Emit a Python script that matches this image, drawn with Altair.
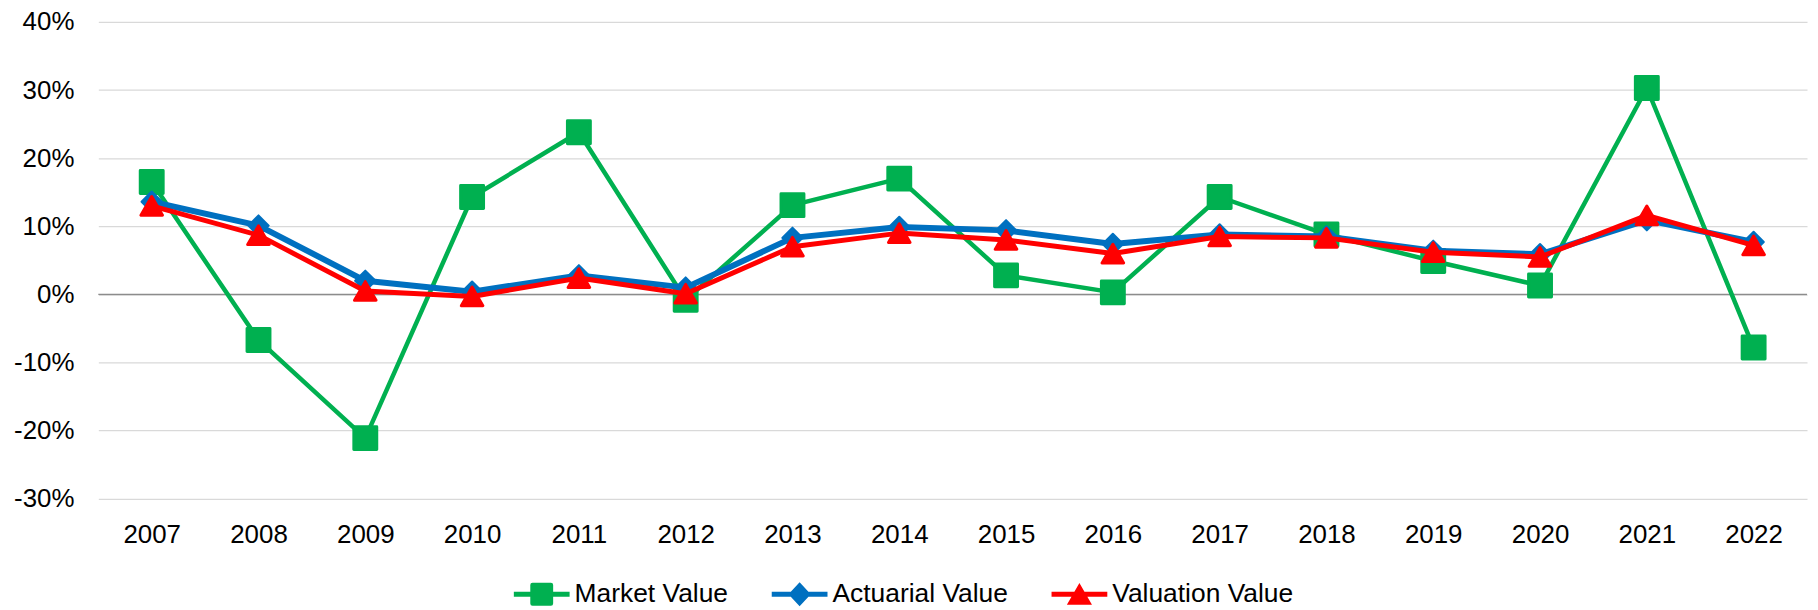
import altair as alt
import pandas as pd

# ---- data ----
years = [str(y) for y in range(2007, 2023)]
market = [16.5, -6.7, -21.1, 14.3, 23.8, -0.8, 13.1, 17.0, 2.8, 0.3, 14.3, 8.8, 4.9, 1.3, 30.3, -7.8]
actuarial = [13.6, 10.1, 2.0, 0.4, 2.8, 1.0, 8.3, 9.9, 9.4, 7.4, 8.8, 8.5, 6.4, 5.9, 10.9, 7.7]
valuation = [13.0, 8.7, 0.5, -0.3, 2.4, 0.1, 7.0, 9.0, 8.0, 6.0, 8.5, 8.3, 6.2, 5.5, 11.6, 7.2]
series_names = ["Market Value", "Actuarial Value", "Valuation Value"]
y_ticks = [-30, -20, -10, 0, 10, 20, 30, 40]

# ---- styles ----
FONT = "Liberation Sans"
colors = ["#00B050", "#0070C0", "#FF0000"]
line_widths = [4.5, 6, 5]
marker_shapes = ["square", "diamond", "triangle-up"]
marker_sizes = [529, 420, 470]
marker_strokes = [3, 2, 3]
legend_paths = [
    # line + rounded square
    "M-1,-0.09L1,-0.09L1,0.09L-1,0.09Z "
    "M-0.33,-0.41L0.33,-0.41Q0.41,-0.41 0.41,-0.33L0.41,0.33Q0.41,0.41 0.33,0.41"
    "L-0.33,0.41Q-0.41,0.41 -0.41,0.33L-0.41,-0.33Q-0.41,-0.41 -0.33,-0.41Z",
    # line + diamond
    "M-1,-0.09L1,-0.09L1,0.09L-1,0.09Z M0,-0.43L0.4,0L0,0.43L-0.4,0Z",
    # line + triangle
    "M-1,-0.09L1,-0.09L1,0.09L-1,0.09Z M0,-0.4L0.45,0.38L-0.45,0.38Z",
]

rows = []
for name, vals in zip(series_names, [market, actuarial, valuation]):
    for yr, v in zip(years, vals):
        rows.append({"year": yr, "series": name, "value": v / 100})
df = pd.DataFrame(rows)
zero_df = pd.DataFrame({"value": [0.0]})

x_enc = alt.X(
    "year:O",
    sort=years,
    scale=alt.Scale(type="point", padding=0.5),
    axis=alt.Axis(
        title=None, labelAngle=0, ticks=False, tickSize=0, domain=False, grid=False,
        labelPadding=23, labelFontSize=26, labelFont=FONT, labelColor="#000000",
    ),
)
y_enc = alt.Y(
    "value:Q",
    scale=alt.Scale(domain=[-0.3, 0.4], nice=False, zero=False),
    axis=alt.Axis(
        title=None, values=[t / 100 for t in y_ticks],
        labelExpr="round(datum.value*100) + '%'",
        ticks=False, tickSize=0, domain=False, grid=True,
        gridColor="#d9d9d9", gridWidth=1.3,
        labelPadding=24.5, labelFontSize=26, labelFont=FONT, labelColor="#000000",
    ),
)

layers = []
layers.append(
    alt.Chart(zero_df).mark_rule(color="#8c8c8c", strokeWidth=1.3).encode(y=y_enc)
)
for i, name in enumerate(series_names):
    base = alt.Chart(df).transform_filter(alt.datum.series == name)
    layers.append(
        base.mark_line(
            color=colors[i], strokeWidth=line_widths[i], strokeJoin="round", strokeCap="round"
        ).encode(x=x_enc, y=y_enc)
    )
    layers.append(
        base.mark_point(
            filled=True, shape=marker_shapes[i], size=marker_sizes[i], color=colors[i],
            stroke=colors[i], strokeWidth=marker_strokes[i], strokeJoin="round", opacity=1,
        ).encode(x=x_enc, y=y_enc)
    )

leg = alt.Legend(
    title=None, orient="none", legendX=417.3, legendY=546.5, direction="horizontal",
    labelFont=FONT, labelFontSize=26.5, labelColor="#000000", labelOffset=5,
    columnPadding=43, symbolSize=3136, symbolStrokeWidth=0, padding=0, labelLimit=500,
)
legend_layer = (
    alt.Chart(df)
    .transform_filter("false")
    .mark_point(filled=True, size=3136, opacity=1, strokeWidth=0)
    .encode(
        color=alt.Color("series:N", scale=alt.Scale(domain=series_names, range=colors), legend=leg),
        shape=alt.Shape("series:N", scale=alt.Scale(domain=series_names, range=legend_paths), legend=leg),
    )
)
layers.append(legend_layer)

chart = (
    alt.layer(*layers)
    .properties(
        width=1716,
        height=478.9,
        autosize=alt.AutoSizeParams(type="none"),
        padding={"left": 90.7, "top": 12.7, "right": 3, "bottom": 112},
        background="white",
    )
    .configure_view(strokeWidth=0, stroke="transparent")
)

chart.save("out.html", embed_options={"renderer": "svg", "actions": False})
